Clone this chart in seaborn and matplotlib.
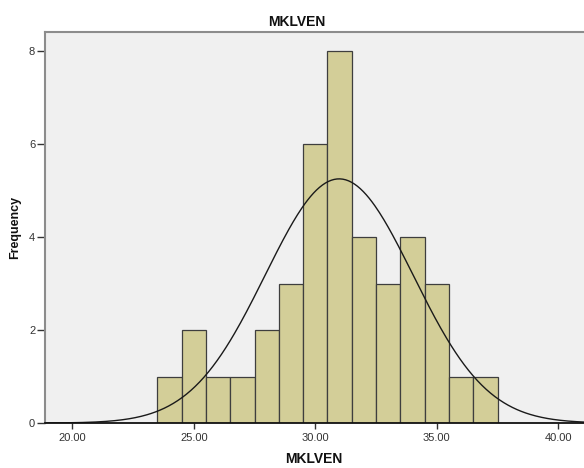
import numpy as np
import pandas as pd
import matplotlib
matplotlib.use("Agg")
import matplotlib.pyplot as plt
import seaborn as sns

# Histogram of MKLVEN: bin centres (width 1) and their frequencies
bin_centers = [24, 25, 26, 27, 28, 29, 30, 31, 32, 33, 34, 35, 36, 37]
frequencies = [1, 2, 1, 1, 2, 3, 6, 8, 4, 3, 4, 3, 1, 1]
# Fitted normal curve parameters
mean_value = 30.98
std_value = 3.04
x_ticks = [20, 25, 30, 35, 40]
x_tick_labels = ["20.00", "25.00", "30.00", "35.00", "40.00"]
y_ticks = [0, 2, 4, 6, 8]

sns.set_style("white")
plt.rcParams["font.family"] = ["Liberation Sans", "DejaVu Sans"]

df = pd.DataFrame({"MKLVEN": bin_centers, "count": frequencies})
bin_width = 1.0
bin_lo = min(bin_centers) - bin_width / 2
bin_hi = max(bin_centers) + bin_width / 2

fig = plt.figure(figsize=(5.84, 4.68), dpi=100)
ax = fig.add_axes([0.077, 0.096, 0.925, 0.836])
ax.set_facecolor("#F0F0F0")

sns.histplot(data=df, x="MKLVEN", weights="count", binwidth=bin_width,
             binrange=(bin_lo, bin_hi), ax=ax,
             color="#D3CE98", alpha=1.0, edgecolor="#3E3E3E", linewidth=0.9)

# Normal curve scaled to counts
n_total = sum(frequencies)
xs = np.linspace(18.5, 42.5, 400)
ys = n_total * bin_width / (std_value * np.sqrt(2 * np.pi)) * np.exp(-0.5 * ((xs - mean_value) / std_value) ** 2)
sns.lineplot(x=xs, y=ys, ax=ax, color="#1A1A1A", linewidth=1.0)

ax.set_xlim(18.88, 41.1)
ax.set_ylim(0, 8.41)
ax.set_xticks(x_ticks)
ax.set_xticklabels(x_tick_labels)
ax.set_yticks(y_ticks)
ax.tick_params(axis="both", labelsize=8, colors="#333333", direction="out",
               bottom=True, left=True)
ax.tick_params(axis="y", length=6, width=1, pad=1)
ax.tick_params(axis="x", length=4, width=1, pad=3)

for side in ["top", "left"]:
    ax.spines[side].set_color("#8C8C8C")
    ax.spines[side].set_linewidth(1.5)
ax.spines["right"].set_visible(False)
ax.spines["bottom"].set_color("#111111")
ax.spines["bottom"].set_linewidth(1.3)

ax.set_title("MKLVEN", fontsize=10, fontweight="bold", pad=4, color="#111111")
ax.set_xlabel("MKLVEN", fontsize=10, fontweight="bold", color="#111111")
ax.set_ylabel("Frequency", fontsize=9, fontweight="bold", labelpad=6, color="#111111")
ax.title.set_x(0.467)
ax.xaxis.set_label_coords(0.497, -0.074)

fig.savefig("out.png", dpi=100, facecolor="white")
